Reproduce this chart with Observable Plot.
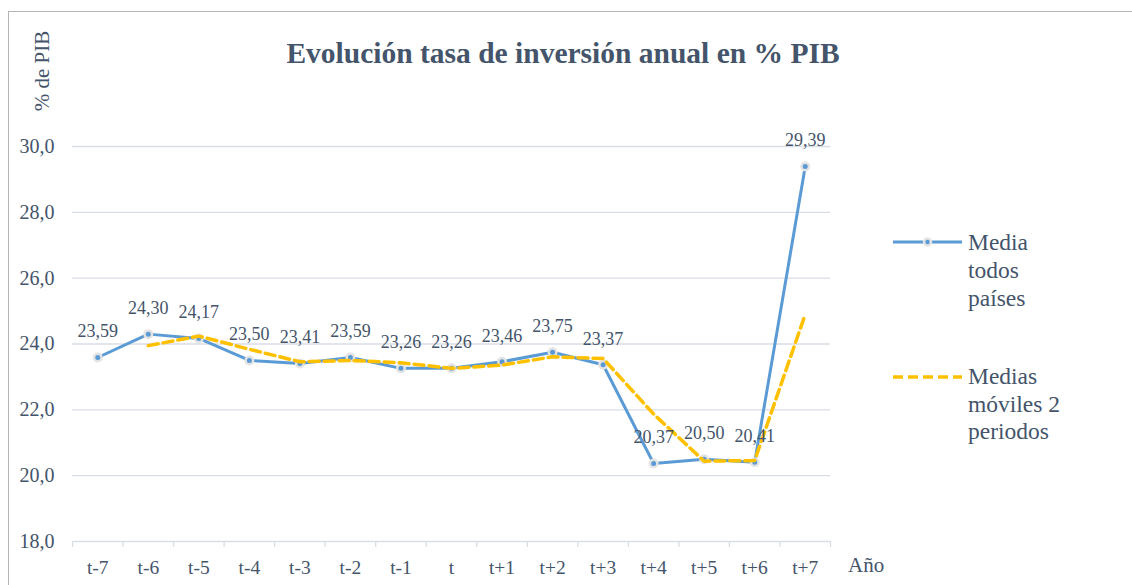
<!DOCTYPE html>
<html><head><meta charset="utf-8">
<script src="https://cdn.jsdelivr.net/npm/d3@7"></script>
<script src="https://cdn.jsdelivr.net/npm/@observablehq/plot@0.6"></script>
</head>
<body style="margin:0;background:#fff;color:#44546a;font-family:'Liberation Serif',serif">
<div id="wrap" style="position:relative;width:1132px;height:585px;overflow:hidden;background:#fff">
<div style="position:absolute;left:8px;top:11px;width:1200px;height:700px;border:1.5px solid #b4b4b4;box-sizing:border-box"></div>
<div id="chart" style="position:absolute;left:0;top:0"></div>
<div style="position:absolute;left:0;width:1126px;top:38.5px;text-align:center;font-weight:bold;font-size:29.5px;line-height:29.5px;white-space:nowrap;font-family:'Liberation Serif',serif">Evolución tasa de inversión anual en % PIB</div>
<div style="position:absolute;left:42px;top:71px;font-size:21px;line-height:21px;white-space:nowrap;transform:translate(-50%,-50%) rotate(-90deg);font-family:'Liberation Serif',serif">% de PIB</div>
<div style="position:absolute;left:848px;top:555px;font-size:21px;line-height:21px;font-family:'Liberation Serif',serif">Año</div>
<svg style="position:absolute;left:893px;top:235px;width:70px;height:14px" viewBox="0 0 70 14"><line x1="0" x2="69" y1="7" y2="7" stroke="#5b9bd5" stroke-width="3"/><circle cx="34.5" cy="7" r="3.5" fill="#5b9bd5" stroke="#e3e3e3" stroke-width="2.5"/></svg>
<div style="position:absolute;left:968px;top:228px;font-size:23.5px;line-height:28px;white-space:nowrap;font-family:'Liberation Serif',serif">Media<br>todos<br>países</div>
<svg style="position:absolute;left:893px;top:370px;width:70px;height:14px" viewBox="0 0 70 14"><line x1="0" x2="69" y1="7" y2="7" stroke="#ffc000" stroke-width="3.5" stroke-dasharray="10,5"/></svg>
<div style="position:absolute;left:968px;top:363px;font-size:23.5px;line-height:27.5px;white-space:nowrap;font-family:'Liberation Serif',serif">Medias<br>móviles 2<br>periodos</div>
</div>
<script>
const cats = ["t-7","t-6","t-5","t-4","t-3","t-2","t-1","t","t+1","t+2","t+3","t+4","t+5","t+6","t+7"];
const media = [23.59,24.30,24.17,23.50,23.41,23.59,23.26,23.26,23.46,23.75,23.37,20.37,20.50,20.41,29.39];
const moviles = [null,23.95,24.24,23.84,23.46,23.50,23.43,23.26,23.36,23.61,23.56,21.87,20.44,20.46,24.90];
const yTicks = [18,20,22,24,26,28,30];

const idx = d3.range(cats.length);
const bounds = d3.range(cats.length + 1).map(i => i - 0.5);
const serieA = idx.map(i => ({i, v: media[i]}));
const serieB = idx.filter(i => moviles[i] != null).map(i => ({i, v: moviles[i]}));
const fmt = v => v.toFixed(2).replace(".", ",");
const txt = "#44546a";
const FONT = "Liberation Serif";

const chart = Plot.plot({
  width: 1132, height: 585,
  marginLeft: 72, marginRight: 302, marginTop: 146, marginBottom: 44,
  style: {background: "transparent", fontFamily: "'Liberation Serif', serif"},
  x: {type: "linear", domain: [-0.5, cats.length - 0.5]},
  y: {domain: [18, 30]},
  marks: [
    Plot.gridY(yTicks, {stroke: "#d9dde6", strokeOpacity: 1, strokeWidth: 1.3}),
    Plot.axisY(yTicks, {tickSize: 0, tickPadding: 18, fontSize: 20, fill: txt, tickFormat: d => d.toFixed(1).replace(".", ","), label: null, fontFamily: FONT}),
    Plot.axisX(bounds, {tickSize: 6, stroke: "#d9dde6", strokeWidth: 1.3, tickFormat: () => "", label: null}),
    Plot.axisX(idx, {tickSize: 0, tickPadding: 18.5, fontSize: 19.5, fill: txt, tickFormat: i => cats[i], label: null, fontFamily: FONT}),
    Plot.line(serieA, {x: "i", y: "v", stroke: "#5b9bd5", strokeWidth: 3}),
    Plot.dot(serieA, {x: "i", y: "v", r: 3.75, fill: "#5b9bd5", stroke: "#e3e3e3", strokeWidth: 2.5}),
    Plot.line(serieB, {x: "i", y: "v", stroke: "#ffc000", strokeWidth: 3.5, strokeDasharray: "10,5"}),
    Plot.text(serieA, {x: "i", y: "v", text: d => fmt(d.v), dy: -26, fontSize: 18, fill: txt, lineAnchor: "middle", fontFamily: FONT})
  ]
});
document.getElementById("chart").append(chart);
</script>
</body></html>
